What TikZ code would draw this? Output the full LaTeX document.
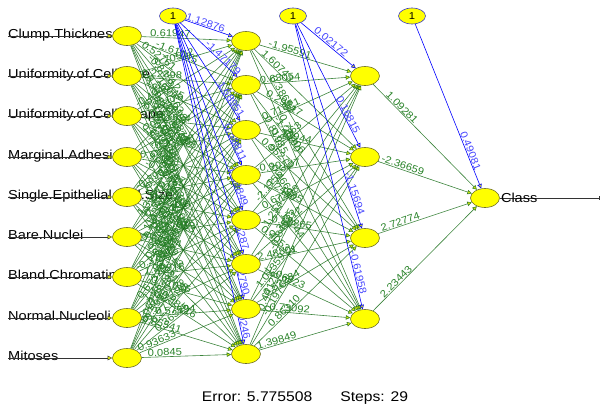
\documentclass[tikz,border=0pt]{standalone}
\usepackage{fontspec}
\setmainfont{Liberation Sans}[FakeStretch=1.12]
\usetikzlibrary{arrows.meta, shapes.geometric}
\pgfdeclarelayer{front}
\pgfsetlayers{main,front}
\definecolor{synapse}{RGB}{25,110,25}
\definecolor{weight}{RGB}{40,130,40}
\definecolor{bias}{RGB}{0,0,255}
\definecolor{biasw}{RGB}{70,70,255}
\definecolor{neuronfill}{RGB}{255,255,0}
\definecolor{neuronline}{RGB}{110,110,40}

\begin{document}
\begin{tikzpicture}[x=1pt, y=-1pt,
    neuron/.style={ellipse, draw=neuronline, fill=neuronfill, minimum width=29pt, minimum height=19pt, inner sep=0pt, line width=0.6pt},
    biasnode/.style={neuron, draw=bias!55!gray, minimum width=27pt, minimum height=16pt, font=\fontsize{10}{10}\selectfont},
    tip/.style={-{Triangle[length=4.5pt, width=4.5pt, fill=yellow!85!green]}},
    syn/.style={tip, draw=synapse, draw opacity=0.85, line width=0.6pt},
    bsyn/.style={tip, draw=bias, line width=0.6pt},
    wlabel/.style={sloped, above, inner sep=0.5pt, text=weight, font=\fontsize{10}{10}\selectfont},
    blabel/.style={wlabel, text=biasw},
    inlabel/.style={inner sep=0pt, font=\fontsize{13}{13}\selectfont}]

    \useasboundingbox (0,0) rectangle (600,407);

    %define the neurons
    \begin{pgfonlayer}{front}
    \foreach \y [count=\i] in {36,76,116,157,197,237,277,318,358}
        \node[neuron] (in\i) at (127,\y) {};
    \foreach \y [count=\j] in {41,85,130,175,220,264,309,354}
        \node[neuron] (h\j) at (246,\y) {};
    \foreach \y [count=\k] in {76,157,238,319}
        \node[neuron] (k\k) at (365,\y) {};
    \node[neuron] (out) at (485,198) {};
    \node[biasnode] (b1) at (173,16) {1};
    \node[biasnode] (b2) at (293,16) {1};
    \node[biasnode] (b3) at (412,16) {1};
    \end{pgfonlayer}

    %define the inputs
    \foreach \name [count=\i] in {Clump.Thickness, Uniformity.of.Cell.Size, Uniformity.of.Cell.Shape,
            Marginal.Adhesion, Single.Epithelial.Cell.Size, Bare.Nuclei, Bland.Chromatin,
            Normal.Nucleoli, Mitoses} {
        \coordinate (s\i) at (in\i -| 8,0);
        \node[inlabel, anchor=base west] (lab\i) at ([yshift=-2.5pt]s\i) {\name};
        \draw[tip, draw=black!80] (s\i) -- (in\i);
    }

    %define the links: input -> hidden 1
    \foreach \ws [count=\i] in {
            {0.61947,-1.61085,0.52761,-0.84512,1.20563,-0.30871,0.94420,-1.17639},
            {0.70512,-0.22398,1.36045,0.41893,-0.98226,0.15734,-0.57310,1.02487},
            {-0.40489,0.88176,0.27634,-1.30958,0.63317,1.14820,-0.06943,0.49102},
            {1.08339,-0.71546,0.33918,0.92064,-0.18527,-1.02653,0.57881,0.21466},
            {-0.25370,0.46208,-0.89315,1.27742,0.08196,0.69583,-1.43027,0.37259},
            {0.95126,1.31670,-0.52849,-0.14302,0.77915,-0.66074,0.28543,-0.93188},
            {-1.11435,0.19780,0.84261,0.55607,-0.37492,1.42918,0.71036,-0.48216},
            {0.32758,-0.81904,-0.20615,0.67329,1.15482,0.43190,0.57594,-0.85541},
            {0.89417,0.12653,1.06728,-0.59380,-0.27761,0.36325,0.93633,0.0845}}
        \foreach \w [count=\j] in \ws {
            \pgfmathsetmacro\p{0.2+0.06*mod(\i+\j,4)}
            \draw[syn] (in\i) -- node[wlabel, pos=\p] {\w} (h\j);
        }

    %define the links: hidden 1 -> hidden 2
    \foreach \ws [count=\j] in {
            {-1.95591,1.60743,0.38652,-0.72190},
            {-0.63054,0.29817,-1.28406,0.81935},
            {0.71821,-0.13944,0.95270,-0.46618},
            {0.53063,-0.90127,0.24585,1.13744},
            {-2.11566,0.67208,-0.10865,0.40532},
            {1.25471,-0.35812,2.48801,-1.06923},
            {-0.84675,1.01359,-0.52284,0.73092},
            {0.44128,-0.19763,0.86310,1.39849}}
        \foreach \w [count=\k] in \ws {
            \pgfmathsetmacro\p{0.2+0.06*mod(\j+\k,3)}
            \draw[syn] (h\j) -- node[wlabel, pos=\p] {\w} (k\k);
        }

    %define the links: hidden 2 -> output
    \foreach \w [count=\k] in {1.09281,-2.36659,2.72774,2.23443}
        \draw[syn] (k\k) -- node[wlabel, pos=0.25] {\w} (out);

    %define the bias links
    \foreach \w [count=\j] in {1.12876,-1.47179,1.68951,0.58811,1.09849,1.06287,1.52790,1.00246} {
        \pgfmathsetmacro\p{1-0.6/\j}
        \draw[bsyn] (b1) -- node[blabel, pos=\p] {\w} (h\j);
    }
    \foreach \w [count=\k] in {0.02172,0.16815,-1.15694,-0.61958} {
        \pgfmathsetmacro\p{1-0.5/\k}
        \draw[bsyn] (b2) -- node[blabel, pos=\p] {\w} (k\k);
    }
    \draw[bsyn] (b3) -- node[blabel, pos=0.78] {0.49081} (out);

    %define the output
    \coordinate (end) at (599,198);
    \draw[-{Bar[width=4pt]}, draw=black!80] (out) -- (end);
    \node[inlabel, anchor=base west] (cls) at ([xshift=1pt, yshift=-4pt]out.east) {Class};

    \node[inlabel, anchor=base, font=\fontsize{14}{14}\selectfont] (err) at (305,401) {Error: 5.775508\quad\quad Steps: 29};

\end{tikzpicture}
\end{document}
